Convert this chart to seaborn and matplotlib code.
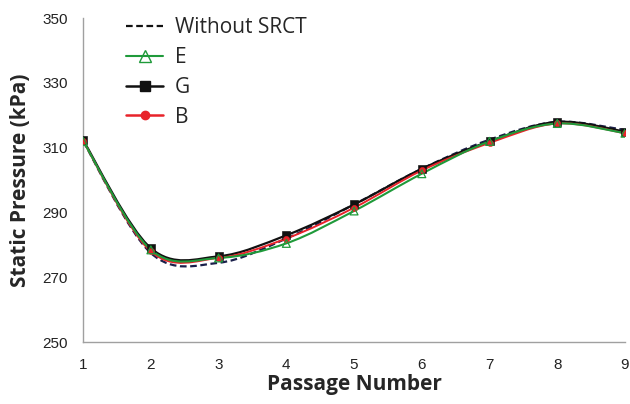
import numpy as np
import pandas as pd
import matplotlib
matplotlib.use("Agg")
import matplotlib.pyplot as plt
from matplotlib.path import Path
from matplotlib.patches import PathPatch
from matplotlib.lines import Line2D
import seaborn as sns

passage = [1, 2, 3, 4, 5, 6, 7, 8, 9]
without_srct = [312.0, 277.5, 274.5, 282.0, 292.5, 303.5, 312.5, 318.0, 315.5]
series_e = [312.0, 278.5, 276.0, 280.5, 290.5, 302.0, 312.0, 317.5, 314.5]
series_g = [312.3, 279.0, 276.5, 283.0, 292.5, 303.5, 312.0, 318.0, 315.0]
series_b = [312.0, 278.0, 276.0, 282.0, 291.5, 303.0, 311.5, 317.5, 314.5]
y_ticks = [250, 270, 290, 310, 330, 350]

sns.set_theme(style="white")
plt.rcParams['font.family'] = ['Liberation Sans', 'DejaVu Sans']

fig = plt.figure(figsize=(6.30, 4.04), dpi=100)
ax = fig.add_axes([0.132, 0.153, 0.860, 0.802])


def smooth_path(x, y):
    x = np.asarray(x, float)
    y = np.asarray(y, float)
    pts = np.column_stack([x, y])
    n = len(pts)
    verts = [pts[0]]
    codes = [Path.MOVETO]
    for i in range(n - 1):
        p0 = pts[i - 1] if i > 0 else pts[i]
        p1 = pts[i]
        p2 = pts[i + 1]
        p3 = pts[i + 2] if i + 2 < n else pts[i + 1]
        c1 = p1 + (p2 - p0) / 6.0
        c2 = p2 - (p3 - p1) / 6.0
        verts += [c1, c2, p2]
        codes += [Path.CURVE4] * 3
    return Path(verts, codes)


def draw_curve(y, color, ls, lw, z):
    patch = PathPatch(smooth_path(passage, y), facecolor='none', edgecolor=color,
                      linestyle=ls, linewidth=lw, zorder=z)
    ax.add_patch(patch)


navy = '#1a1f4a'
green = '#1f9a3a'
red = '#e8232a'
black = '#111111'

draw_curve(without_srct, navy, (0, (3, 1.6)), 1.6, 2)
draw_curve(series_g, black, '-', 1.6, 3)
draw_curve(series_b, red, '-', 1.4, 4)
draw_curve(series_e, green, '-', 1.5, 5)

df_g = pd.DataFrame({'x': passage, 'y': series_g})
df_b = pd.DataFrame({'x': passage, 'y': series_b})
df_e = pd.DataFrame({'x': passage, 'y': series_e})
sns.scatterplot(data=df_g, x='x', y='y', ax=ax, marker='s', s=30, color=black,
                edgecolor=black, zorder=6, legend=False)
sns.scatterplot(data=df_b, x='x', y='y', ax=ax, marker='o', s=20, color=red,
                edgecolor=red, zorder=6, legend=False)
sns.scatterplot(data=df_e, x='x', y='y', ax=ax, marker='^', s=32, facecolor='none',
                edgecolor=green, linewidth=0.9, zorder=7, legend=False)

ax.set_xlim(1, 9)
ax.set_ylim(250, 350)
ax.set_xticks(passage)
ax.set_yticks(y_ticks)
ax.tick_params(axis='both', labelsize=11, colors='#333333', length=3, width=0.8,
               direction='out', pad=8)
ax.tick_params(axis='x', direction='inout', length=5, pad=9)
for t in ax.get_xticklabels() + ax.get_yticklabels():
    t.set_color('#222222')
for side in ['top', 'right']:
    ax.spines[side].set_visible(False)
for side in ['left', 'bottom']:
    ax.spines[side].set_color('#a0a0a0')
    ax.spines[side].set_linewidth(1.0)

ax.set_xlabel('Passage Number', fontsize=15, fontweight='bold',
              family=['Open Sans', 'DejaVu Sans'], labelpad=1)
ax.set_ylabel('Static Pressure (kPa)', fontsize=15, fontweight='bold',
              family=['Open Sans', 'DejaVu Sans'], labelpad=8)

handles = [
    Line2D([], [], color=black, linestyle=(0, (3, 1.6)), linewidth=1.6),
    Line2D([], [], color=green, linewidth=1.5, marker='^', markerfacecolor='none',
           markeredgecolor=green, markersize=8),
    Line2D([], [], color=black, linewidth=1.8, marker='s', markersize=7),
    Line2D([], [], color=red, linewidth=1.8, marker='o', markersize=6),
]
labels = ['Without SRCT', 'E', 'G', 'B']
leg = ax.legend(handles, labels, loc='upper left', bbox_to_anchor=(0.045, 1.06),
                frameon=False, handlelength=1.75, handletextpad=0.6,
                labelspacing=0.42, prop={'family': ['Open Sans', 'DejaVu Sans'], 'size': 15})

fig.savefig('out.png', dpi=100)
